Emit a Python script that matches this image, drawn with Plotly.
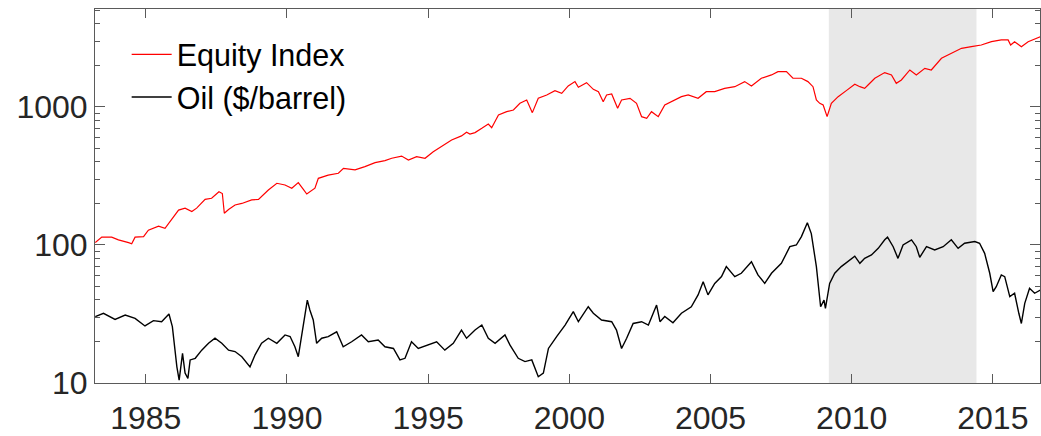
import plotly.graph_objects as go

# ---- data (decimal years) ----
equity_years = [1983.21, 1983.44, 1983.79, 1984.03, 1984.39, 1984.50, 1984.62, 1984.92, 1985.09, 1985.45,
                1985.68, 1985.86, 1986.16, 1986.39, 1986.63, 1986.80, 1987.10, 1987.33, 1987.59, 1987.71,
                1987.78, 1987.93, 1988.16, 1988.40, 1988.75, 1988.99, 1989.34, 1989.64, 1989.93, 1990.17,
                1990.40, 1990.58, 1990.70, 1990.99, 1991.11, 1991.46, 1991.82, 1992.00, 1992.41, 1992.76,
                1993.12, 1993.47, 1993.71, 1994.06, 1994.30, 1994.59, 1994.89, 1995.18, 1995.53, 1995.83,
                1996.18, 1996.36, 1996.48, 1996.66, 1996.90, 1997.13, 1997.25, 1997.49, 1997.78, 1998.02,
                1998.25, 1998.49, 1998.69, 1998.90, 1999.20, 1999.49, 1999.73, 1999.96, 2000.20, 2000.32,
                2000.61, 2000.85, 2001.03, 2001.20, 2001.32, 2001.50, 2001.71, 2001.85, 2002.15, 2002.38,
                2002.56, 2002.74, 2002.91, 2003.15, 2003.38, 2003.62, 2003.97, 2004.21, 2004.56, 2004.85,
                2005.15, 2005.50, 2005.86, 2006.21, 2006.45, 2006.80, 2007.16, 2007.39, 2007.69, 2007.92,
                2008.22, 2008.45, 2008.63, 2008.75, 2008.87, 2008.99, 2009.13, 2009.28, 2009.52, 2009.81,
                2010.11, 2010.29, 2010.46, 2010.58, 2010.82, 2011.17, 2011.41, 2011.58, 2011.76, 2012.06,
                2012.29, 2012.59, 2012.82, 2013.18, 2013.53, 2013.89, 2014.24, 2014.59, 2014.95, 2015.30,
                2015.54, 2015.63, 2015.77, 2016.01, 2016.25, 2016.54, 2016.69]
equity_values = [104, 114, 114, 109, 104, 102, 114, 115, 128, 137,
                 132, 147, 179, 185, 175, 185, 214, 218, 243, 236,
                 170, 181, 195, 200, 212, 214, 250, 280, 272, 258,
                 283, 253, 234, 258, 304, 321, 331, 359, 350, 370,
                 395, 409, 425, 441, 413, 437, 425, 474, 531, 577,
                 617, 656, 637, 652, 700, 753, 708, 875, 925, 951,
                 1063, 1124, 910, 1156, 1222, 1314, 1256, 1420, 1527, 1390,
                 1500, 1343, 1291, 1093, 1222, 1242, 978, 1124, 1156, 1063,
                 851, 828, 925, 851, 1034, 1093, 1188, 1222, 1156, 1291,
                 1291, 1365, 1403, 1527, 1420, 1615, 1707, 1804, 1804, 1615,
                 1615, 1527, 1403, 1124, 1063, 1034, 851, 1063, 1188, 1314,
                 1460, 1403, 1365, 1443, 1615, 1775, 1707, 1483, 1570, 1854,
                 1707, 1905, 1854, 2253, 2449, 2662, 2737, 2813, 2973, 3059,
                 3059, 2813, 2973, 2737, 2973, 3147, 3236]

oil_years = [1983.21, 1983.50, 1983.91, 1984.27, 1984.62, 1984.97, 1985.27, 1985.56, 1985.82, 1985.94,
             1986.10, 1986.18, 1986.30, 1986.39, 1986.49, 1986.57, 1986.75, 1986.98, 1987.22, 1987.45,
             1987.69, 1987.93, 1988.16, 1988.40, 1988.69, 1988.87, 1989.10, 1989.34, 1989.64, 1989.93,
             1990.11, 1990.28, 1990.40, 1990.52, 1990.64, 1990.72, 1990.81, 1990.93, 1991.05, 1991.23,
             1991.46, 1991.76, 1991.99, 1992.29, 1992.64, 1992.88, 1993.23, 1993.47, 1993.77, 1994.00,
             1994.18, 1994.41, 1994.65, 1995.00, 1995.30, 1995.59, 1995.89, 1996.18, 1996.36, 1996.66,
             1996.90, 1997.13, 1997.37, 1997.72, 1997.90, 1998.19, 1998.43, 1998.67, 1998.90, 1999.08,
             1999.26, 1999.55, 1999.85, 2000.14, 2000.32, 2000.67, 2000.85, 2001.14, 2001.50, 2001.67,
             2001.85, 2002.03, 2002.26, 2002.56, 2002.80, 2003.09, 2003.21, 2003.38, 2003.67, 2003.97,
             2004.32, 2004.56, 2004.74, 2004.91, 2005.15, 2005.39, 2005.56, 2005.86, 2006.09, 2006.45,
             2006.68, 2006.92, 2007.16, 2007.51, 2007.81, 2008.04, 2008.22, 2008.43, 2008.57, 2008.75,
             2008.90, 2009.02, 2009.07, 2009.22, 2009.40, 2009.63, 2009.87, 2010.11, 2010.29, 2010.46,
             2010.70, 2010.94, 2011.17, 2011.27, 2011.47, 2011.64, 2011.82, 2012.12, 2012.29, 2012.41,
             2012.65, 2012.94, 2013.24, 2013.53, 2013.77, 2014.00, 2014.36, 2014.53, 2014.71, 2014.89,
             2015.01, 2015.12, 2015.30, 2015.42, 2015.60, 2015.77, 2015.92, 2016.01, 2016.13, 2016.30,
             2016.48, 2016.69]
oil_values = [30.3, 32.0, 28.9, 31.1, 29.4, 25.9, 28.3, 27.8, 31.6, 25.6,
              13.1, 10.5, 16.4, 11.8, 10.8, 14.7, 15.1, 17.3, 19.4, 21.1,
              19.4, 17.3, 16.9, 15.5, 13.1, 16.0, 19.4, 21.1, 19.4, 22.3,
              21.7, 18.3, 15.5, 21.7, 31.1, 39.9, 33.8, 28.6, 19.4, 21.1,
              21.7, 23.5, 18.3, 19.9, 22.3, 19.9, 20.5, 18.3, 17.8, 14.7,
              15.1, 19.9, 17.8, 18.8, 19.9, 17.3, 19.4, 24.2, 21.1, 24.2,
              26.3, 21.1, 19.4, 22.3, 18.8, 15.1, 14.3, 14.7, 11.1, 11.8,
              17.8, 21.7, 26.3, 32.9, 27.8, 35.7, 32.0, 28.6, 27.8, 24.2,
              17.8, 21.1, 27.0, 27.8, 26.3, 36.7, 27.8, 30.3, 27.3, 32.0,
              35.7, 43.5, 54.2, 43.5, 52.7, 59.0, 69.7, 59.0, 62.4, 75.7,
              60.7, 52.7, 62.4, 73.6, 97.2, 100, 115, 145, 121, 69.7,
              35.7, 39.9, 34.8, 52.7, 62.4, 69.7, 75.7, 83.0, 73.6, 80.0,
              84.7, 94.6, 109, 114, 97.2, 80.0, 100, 109, 97.2, 81.4,
              97.2, 92.0, 97.2, 109, 94.6, 103, 106, 103, 87.0, 62.4,
              45.9, 49.9, 60.7, 59.0, 42.3, 44.7, 32.0, 27.0, 37.8, 48.5,
              44.7, 47.2]

shade_start, shade_end = 2009.19, 2014.42
x_ticks = [1985, 1990, 1995, 2000, 2005, 2010, 2015]
y_ticks = [10, 100, 1000]
y_minor = [v * m for m in (10, 100, 1000) for v in range(2, 10)]

FONT = "Liberation Sans, Arial, Helvetica, sans-serif"
AX = "#5a5a5a"

fig = go.Figure()
fig.add_trace(go.Scatter(x=equity_years, y=equity_values, mode="lines", name="Equity Index",
                         line=dict(color="#ff0000", width=1.2)))
fig.add_trace(go.Scatter(x=oil_years, y=oil_values, mode="lines", name="Oil ($/barrel)",
                         line=dict(color="#000000", width=1.4)))

fig.add_shape(type="rect", xref="x", yref="paper", x0=shade_start, x1=shade_end, y0=0, y1=1,
              fillcolor="#e8e8e8", line=dict(width=0), layer="below")

fig.update_layout(
    width=1041, height=436,
    margin=dict(l=95, r=1, t=9, b=53),
    paper_bgcolor="white", plot_bgcolor="white",
    font=dict(family=FONT, color="#262626", size=32),
    showlegend=True,
    legend=dict(x=0.0335, y=0.949, xanchor="left", yanchor="top", bgcolor="rgba(0,0,0,0)",
                font=dict(size=30.5, color="#000000"), itemwidth=40),
)
fig.update_xaxes(range=[1983.2, 2016.67], tickmode="array", tickvals=x_ticks,
                 ticktext=[str(t) for t in x_ticks], ticks="inside", ticklen=9, tickwidth=1,
                 tickcolor=AX, showline=True, linecolor=AX, linewidth=1, mirror="allticks",
                 showgrid=False, zeroline=False, tickfont=dict(size=32, color="#262626"),
                 ticklabelstandoff=7)
fig.update_yaxes(type="log", range=[1, 3.71], tickmode="array", tickvals=y_ticks,
                 ticktext=[str(t) for t in y_ticks], ticks="inside", ticklen=10, tickwidth=1,
                 tickcolor=AX, showline=True, linecolor=AX, linewidth=1, mirror="allticks",
                 showgrid=False, zeroline=False, tickfont=dict(size=32, color="#262626"),
                 minor=dict(tickmode="array", tickvals=y_minor, ticks="inside", ticklen=5,
                            tickcolor=AX, showgrid=False))

fig.write_html("out.html")
